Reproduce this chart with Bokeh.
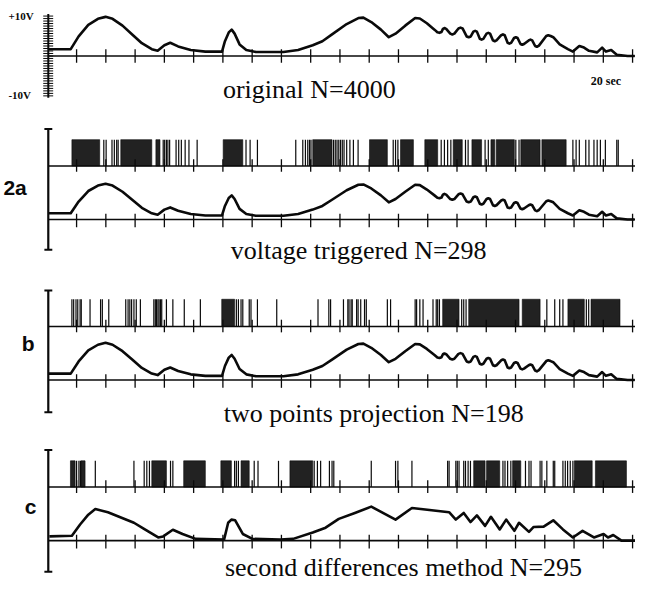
from bokeh.plotting import figure
from bokeh.models import Range1d, Label
from bokeh.embed import file_html
from bokeh.resources import INLINE
import numpy as np

# ---------------- data (time in seconds, amplitude in volts) ----------------
wave_t = [0.03, 0.80, 1.07, 1.40, 1.73, 1.99, 2.23, 2.57, 2.90, 3.23, 3.57, 3.77, 4.00, 4.20,
          4.47, 4.90, 5.40, 5.97, 6.07, 6.20, 6.30, 6.40, 6.57, 6.80, 7.13, 8.07, 8.57, 9.07,
          9.40, 9.73, 10.23, 10.63, 10.80, 11.07, 11.40, 11.67, 11.90, 12.23, 12.57, 12.73,
          12.97, 13.23, 13.33, 13.40, 13.47, 13.52, 13.57, 13.63, 13.77, 13.84, 13.91, 14.05,
          14.12, 14.19, 14.33, 14.40, 14.47, 14.56, 14.62, 14.68, 14.78, 14.84, 14.90, 15.01,
          15.07, 15.13, 15.23, 15.29, 15.35, 15.51, 15.57, 15.63, 15.73, 15.79, 15.85, 15.95,
          16.01, 16.07, 16.17, 16.23, 16.29, 16.45, 16.51, 16.57, 16.67, 16.73, 16.80, 17.05,
          17.12, 17.20, 17.29, 17.51, 17.79, 17.96, 18.18, 18.34, 18.51, 18.79, 18.96, 19.09,
          19.27, 19.46, 19.83, 20.07]
wave_v = [1.7, 1.7, 4.9, 7.8, 9.3, 9.8, 9.3, 7.6, 5.4, 3.2, 1.7, 1.3, 2.7, 3.3,
          2.4, 1.5, 1.1, 1.1, 3.7, 5.9, 6.6, 5.6, 2.9, 1.5, 1.0, 1.0, 1.5, 2.7,
          3.7, 5.4, 8.0, 9.5, 9.6, 8.5, 6.6, 4.7, 5.6, 7.6, 9.5, 9.4,
          8.2, 6.6, 5.95, 5.8, 6.0, 6.8, 7.0, 6.8, 5.6, 5.4, 5.6, 6.9,
          7.1, 6.9, 4.9, 4.7, 4.9, 6.1, 6.3, 6.1, 4.3, 4.1, 4.3, 5.6,
          5.8, 5.6, 3.9, 3.7, 3.9, 5.2, 5.4, 5.2, 3.3, 3.1, 3.3, 4.5,
          4.7, 4.5, 3.0, 2.8, 3.0, 3.9, 4.1, 3.9, 2.5, 2.3, 2.6, 5.0,
          5.2, 5.0, 4.7, 2.9, 1.7, 1.1, 2.5, 2.1, 1.3, 0.9, 2.1, 1.1,
          1.5, 0.3, 0.0, 0.0]

approx_t = [0.07, 0.84, 1.12, 1.40, 1.64, 2.07, 2.96, 3.29, 3.79, 3.96, 4.29, 4.62, 5.07,
            6.04, 6.18, 6.29, 6.42, 6.68, 7.01, 7.96, 8.40, 9.07, 9.51, 9.96, 10.51, 11.07,
            11.90, 12.46, 13.73, 13.96, 14.23, 14.46, 14.68, 14.96, 15.16, 15.46, 15.68,
            15.96, 16.12, 16.46, 16.62, 16.96, 17.29, 17.62, 17.96, 18.29, 18.68, 19.01,
            19.16, 19.34, 19.62, 20.10]
approx_v = [1.2, 1.4, 4.6, 7.4, 9.0, 8.1, 5.1, 3.4, 0.9, 1.2, 3.1, 1.9, 0.5,
            0.3, 5.1, 6.0, 5.8, 1.9, 0.5, 0.3, 0.5, 2.3, 3.7, 6.2, 7.9, 9.7,
            6.0, 9.3, 8.1, 6.0, 7.9, 5.3, 7.2, 4.2, 6.8, 3.2, 6.0,
            2.8, 5.1, 2.5, 3.9, 4.0, 5.8, 3.2, 0.9, 2.8, 0.9, 1.9,
            0.9, 1.6, 0.0, 0.0]

tick_secs = list(range(1, 21))
ruler_volts = list(np.arange(-10.0, 10.01, 0.625))

# spike trains: isolated spikes and dense bursts (start, end)
spikes_a = [1.93, 2.01, 2.21, 2.29, 2.37, 2.42, 3.96, 4.01, 4.07, 4.12, 4.18, 4.40, 4.49, 4.58,
            4.71, 4.84, 5.12, 6.79, 6.93, 7.18, 8.49, 8.73, 8.82, 8.90, 8.96, 9.01, 9.78, 9.84,
            9.90, 9.96, 10.02, 10.08, 10.14, 10.23, 10.34, 10.46, 10.62, 11.82, 11.90, 11.98,
            13.46, 13.57, 13.68, 13.79, 14.29, 14.38, 14.96, 15.07, 16.01, 16.12, 17.96, 18.07,
            18.18, 18.40, 18.51, 18.68, 18.79, 18.90, 19.07, 19.46, 19.51]
burst_a_start = [0.84, 2.51, 3.71, 6.01, 9.07, 11.01, 12.07, 12.90, 13.87, 14.51, 15.16, 15.34, 16.18, 16.90]
burst_a_end = [1.79, 3.57, 3.85, 6.68, 9.73, 11.62, 12.51, 13.34, 14.18, 14.84, 15.29, 15.96, 16.84, 17.73]

spikes_b = [0.84, 0.90, 0.98, 1.04, 1.12, 1.16, 1.46, 1.82, 1.88, 2.10, 2.68, 2.76, 2.82, 2.88,
            2.96, 3.04, 3.18, 3.64, 3.69, 3.73, 3.78, 3.82, 3.87, 3.91, 4.07, 4.29, 4.68, 5.23,
            6.46, 6.53, 6.62, 6.68, 6.90, 6.96, 7.18, 7.84, 9.25, 9.62, 9.68, 10.12, 10.27,
            10.31, 10.38, 10.42, 10.57, 10.62, 10.71, 10.84, 10.90, 11.62, 11.73, 12.57, 12.62,
            12.73, 12.84, 13.18, 13.29, 13.34, 13.40, 14.16, 14.23, 14.31, 17.07, 17.34, 17.51,
            17.62, 18.42, 18.50]
burst_b_start = [5.96, 13.51, 14.40, 16.23, 17.79, 18.58]
burst_b_end = [6.40, 14.07, 16.12, 16.84, 18.35, 19.57]

spikes_c = [1.00, 1.08, 1.13, 1.64, 2.96, 3.31, 3.40, 3.49, 4.21, 4.29, 6.40, 6.46, 6.53, 7.07,
            7.20, 7.90, 9.12, 9.23, 9.34, 9.64, 9.73, 9.79, 11.07, 11.90, 11.98, 12.46, 13.68,
            13.73, 13.96, 14.01, 14.07, 14.23, 14.29, 14.38, 14.46, 15.57, 15.64, 15.73, 15.84,
            16.34, 16.46, 16.53, 16.84, 16.90, 17.07, 17.29, 17.34, 17.62, 17.70, 17.78, 17.87,
            17.96]
burst_c_start = [0.79, 1.15, 3.57, 4.66, 5.93, 6.62, 8.29, 14.57, 15.01, 15.90, 18.01, 18.73]
burst_c_end = [0.95, 1.29, 4.07, 5.40, 6.29, 6.90, 9.07, 14.96, 15.46, 16.18, 18.62, 19.79]

titles = ["original  N=4000", "voltage  triggered  N=298",
          "two points projection  N=198", "second differences method N=295"]
panel_letters = ["2a", "b", "c"]

# ---------------- layout (vertical positions in page rows, top = 0) ----------------
W, H = 635, 581
p = figure(width=W, height=H, output_backend="svg", toolbar_location=None,
           x_range=Range1d(-1.6, 20.1), y_range=Range1d(597, 0),
           x_axis_location=None, y_axis_location=None,
           min_border=0, outline_line_color=None, background_fill_color="white",
           border_fill_color="white")
p.grid.visible = False

INK = "#0a0a0a"
X_AX = 0.033       # time where vertical axes stand
X_END = 20.1


def time_axis(y, up, down, width=1.6):
    p.segment(x0=[X_AX], y0=[y], x1=[X_END], y1=[y], line_color=INK, line_width=width)
    p.segment(x0=tick_secs, y0=[y - up] * len(tick_secs), x1=tick_secs,
              y1=[y + down] * len(tick_secs), line_color=INK, line_width=1.3)


def waveform(ts, vs, axis_y, ppv):
    ys = [axis_y - v * ppv for v in vs]
    p.line(ts, ys, line_color=INK, line_width=2.6, line_join="round")


def spike_row(spikes, b0, b1, base, top):
    p.quad(left=b0, right=b1, bottom=[base] * len(b0), top=[top] * len(b0),
           fill_color=INK, fill_alpha=0.9, line_color=INK, line_width=0.6)
    p.segment(x0=spikes, y0=[base] * len(spikes), x1=spikes, y1=[top] * len(spikes),
              line_color=INK, line_width=1.2)


def v_axis(top, bottom):
    p.segment(x0=[X_AX], y0=[top], x1=[X_AX], y1=[bottom], line_color=INK, line_width=2.2)
    p.segment(x0=[-0.1, -0.1], y0=[top, bottom], x1=[0.17, 0.17], y1=[top, bottom],
              line_color=INK, line_width=2.0)


# panel 1 : original
P1_AXIS, P1_PPV = 57, 4.1
p.segment(x0=[X_AX], y0=[P1_AXIS - 10 * P1_PPV - 2], x1=[X_AX], y1=[P1_AXIS + 10 * P1_PPV + 2],
          line_color=INK, line_width=2.0)
ry = [P1_AXIS - v * P1_PPV for v in ruler_volts]
p.segment(x0=[-0.14] * len(ry), y0=ry, x1=[0.2] * len(ry), y1=ry, line_color=INK, line_width=1.0)
time_axis(P1_AXIS, 7, 7)
waveform(wave_t, wave_v, P1_AXIS, P1_PPV)

# panels a, b, c
panels = [
    dict(base=170, top=143, axis=225, ppv=3.75, vtop=132, vbot=256,
         spikes=spikes_a, b0=burst_a_start, b1=burst_a_end, t=wave_t, v=wave_v),
    dict(base=335, top=307, axis=390, ppv=3.9, vtop=298, vbot=423,
         spikes=spikes_b, b0=burst_b_start, b1=burst_b_end, t=wave_t, v=wave_v),
    dict(base=500, top=473, axis=555, ppv=3.6, vtop=462, vbot=587,
         spikes=spikes_c, b0=burst_c_start, b1=burst_c_end, t=approx_t, v=approx_v),
]
for pn in panels:
    v_axis(pn["vtop"], pn["vbot"])
    spike_row(pn["spikes"], pn["b0"], pn["b1"], pn["base"], pn["top"])
    time_axis(pn["base"], 7, 6, width=1.5)
    time_axis(pn["axis"], 6, 8)
    waveform(pn["t"], pn["v"], pn["axis"], pn["ppv"])

# ---------------- texts ----------------
SERIF = "Liberation Serif"
SANS = "Liberation Sans"
title_pos = [(6.0, 91), (6.27, 257), (6.03, 424), (6.07, 583)]
for txt, (tx, ty) in zip(titles, title_pos):
    p.add_layout(Label(x=tx, y=ty, text=txt, text_font=SERIF, text_font_size="26px",
                       text_color=INK, text_baseline="alphabetic"))

p.add_layout(Label(x=18.57, y=83, text="20 sec", text_font=SERIF, text_font_size="12px",
                   text_font_style="bold", text_color=INK, text_baseline="alphabetic"))
p.add_layout(Label(x=-1.33, y=16, text="+10V", text_font=SERIF, text_font_size="11px",
                   text_font_style="bold", text_color=INK, text_baseline="middle"))
p.add_layout(Label(x=-1.33, y=97, text="-10V", text_font=SERIF, text_font_size="11px",
                   text_font_style="bold", text_color=INK, text_baseline="middle"))

letter_pos = [(-1.5, 192), (-0.87, 352), (-0.77, 520)]
for txt, (tx, ty) in zip(panel_letters, letter_pos):
    p.add_layout(Label(x=tx, y=ty, text=txt, text_font=SANS, text_font_size="21px",
                       text_font_style="bold", text_color=INK, text_baseline="alphabetic"))

open("out.html", "w").write(file_html(p, INLINE))
